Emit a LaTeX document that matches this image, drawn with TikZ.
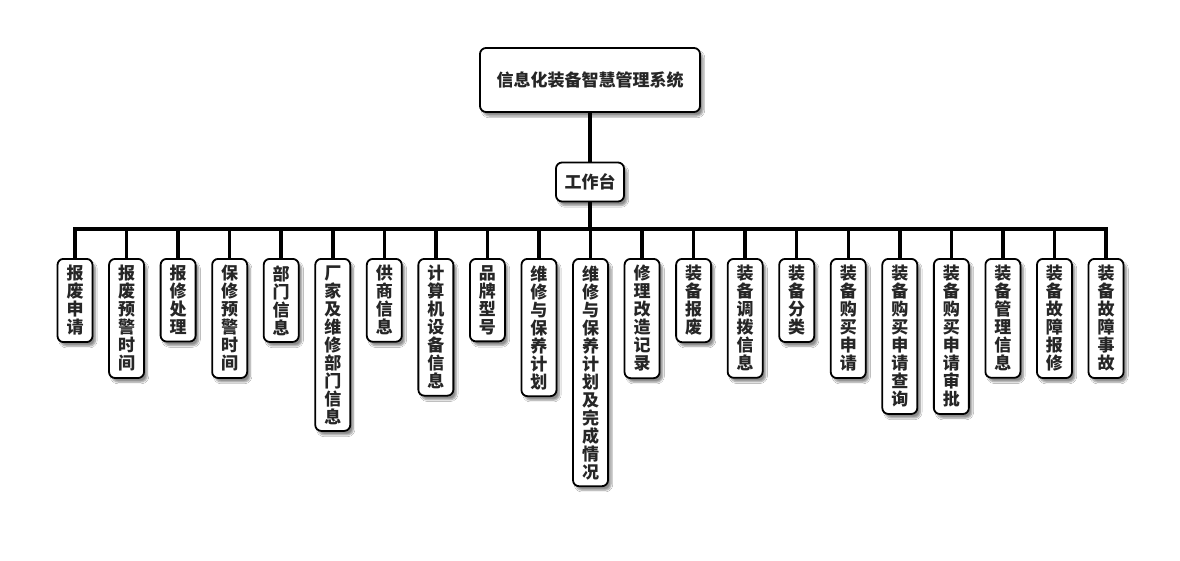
\documentclass[tikz,border=0pt]{standalone}
\usepackage{fontspec}
\newfontfamily\cjk{Noto Sans CJK SC}
\usetikzlibrary{shadows.blur}

% stack the characters of a label one under another
\makeatletter
\def\vstkloop#1{\ifx#1\relax\else\hbox to 17pt{\hss#1\hss}\expandafter\vstkloop\fi}
\newcommand\vstk[1]{\vbox{\baselineskip=18pt\expandafter\vstkloop#1\relax}}
\makeatother

\tikzset{
  box/.style={draw=black, line width=1.8pt, fill=white, rounded corners=6pt,
    blur shadow={shadow xshift=3pt, shadow yshift=-4pt, shadow blur steps=6, shadow opacity=45},
    font=\cjk\bfseries\fontsize{17}{18}\selectfont, text=black!85},
  leafbox/.style={box, anchor=north, inner xsep=9pt, inner ysep=6.5pt},
  link/.style={line width=3.5pt, black}
}

\begin{document}
\begin{tikzpicture}[x=1pt, y=-1pt]
  \useasboundingbox[fill=white] (0,0) rectangle (1180,560);
  % connectors first, boxes on top
  \coordinate (top) at (590,112);
  \coordinate (bar) at (590,229);
  \draw[link] (top) -- (bar);
  \foreach \lbl [count=\i] in {报废申请,报废预警时间,报修处理,保修预警时间,部门信息,
      厂家及维修部门信息,供商信息,计算机设备信息,品牌型号,维修与保养计划,
      维修与保养计划及完成情况,修理改造记录,装备报废,装备调拨信息,装备分类,
      装备购买申请,装备购买申请查询,装备购买申请审批,装备管理信息,装备故障报修,
      装备故障事故}{
    \coordinate (foot\i) at ({75+(\i-1)*51.55},258);
    \draw[link] (bar) -| (foot\i);
  }
  % root and hub
  \node[box, minimum width=220pt, minimum height=64pt] (sys) at (590,80) {信息化装备智慧管理系统};
  \node[box, minimum width=68pt, minimum height=39pt, inner xsep=6pt] (hub) at (590,182) {工作台};
  % leaves
  \foreach \lbl [count=\i] in {报废申请,报废预警时间,报修处理,保修预警时间,部门信息,
      厂家及维修部门信息,供商信息,计算机设备信息,品牌型号,维修与保养计划,
      维修与保养计划及完成情况,修理改造记录,装备报废,装备调拨信息,装备分类,
      装备购买申请,装备购买申请查询,装备购买申请审批,装备管理信息,装备故障报修,
      装备故障事故}{
    \node[leafbox] (leaf\i) at (foot\i) {\vstk{\lbl}};
  }
\end{tikzpicture}
\end{document}
